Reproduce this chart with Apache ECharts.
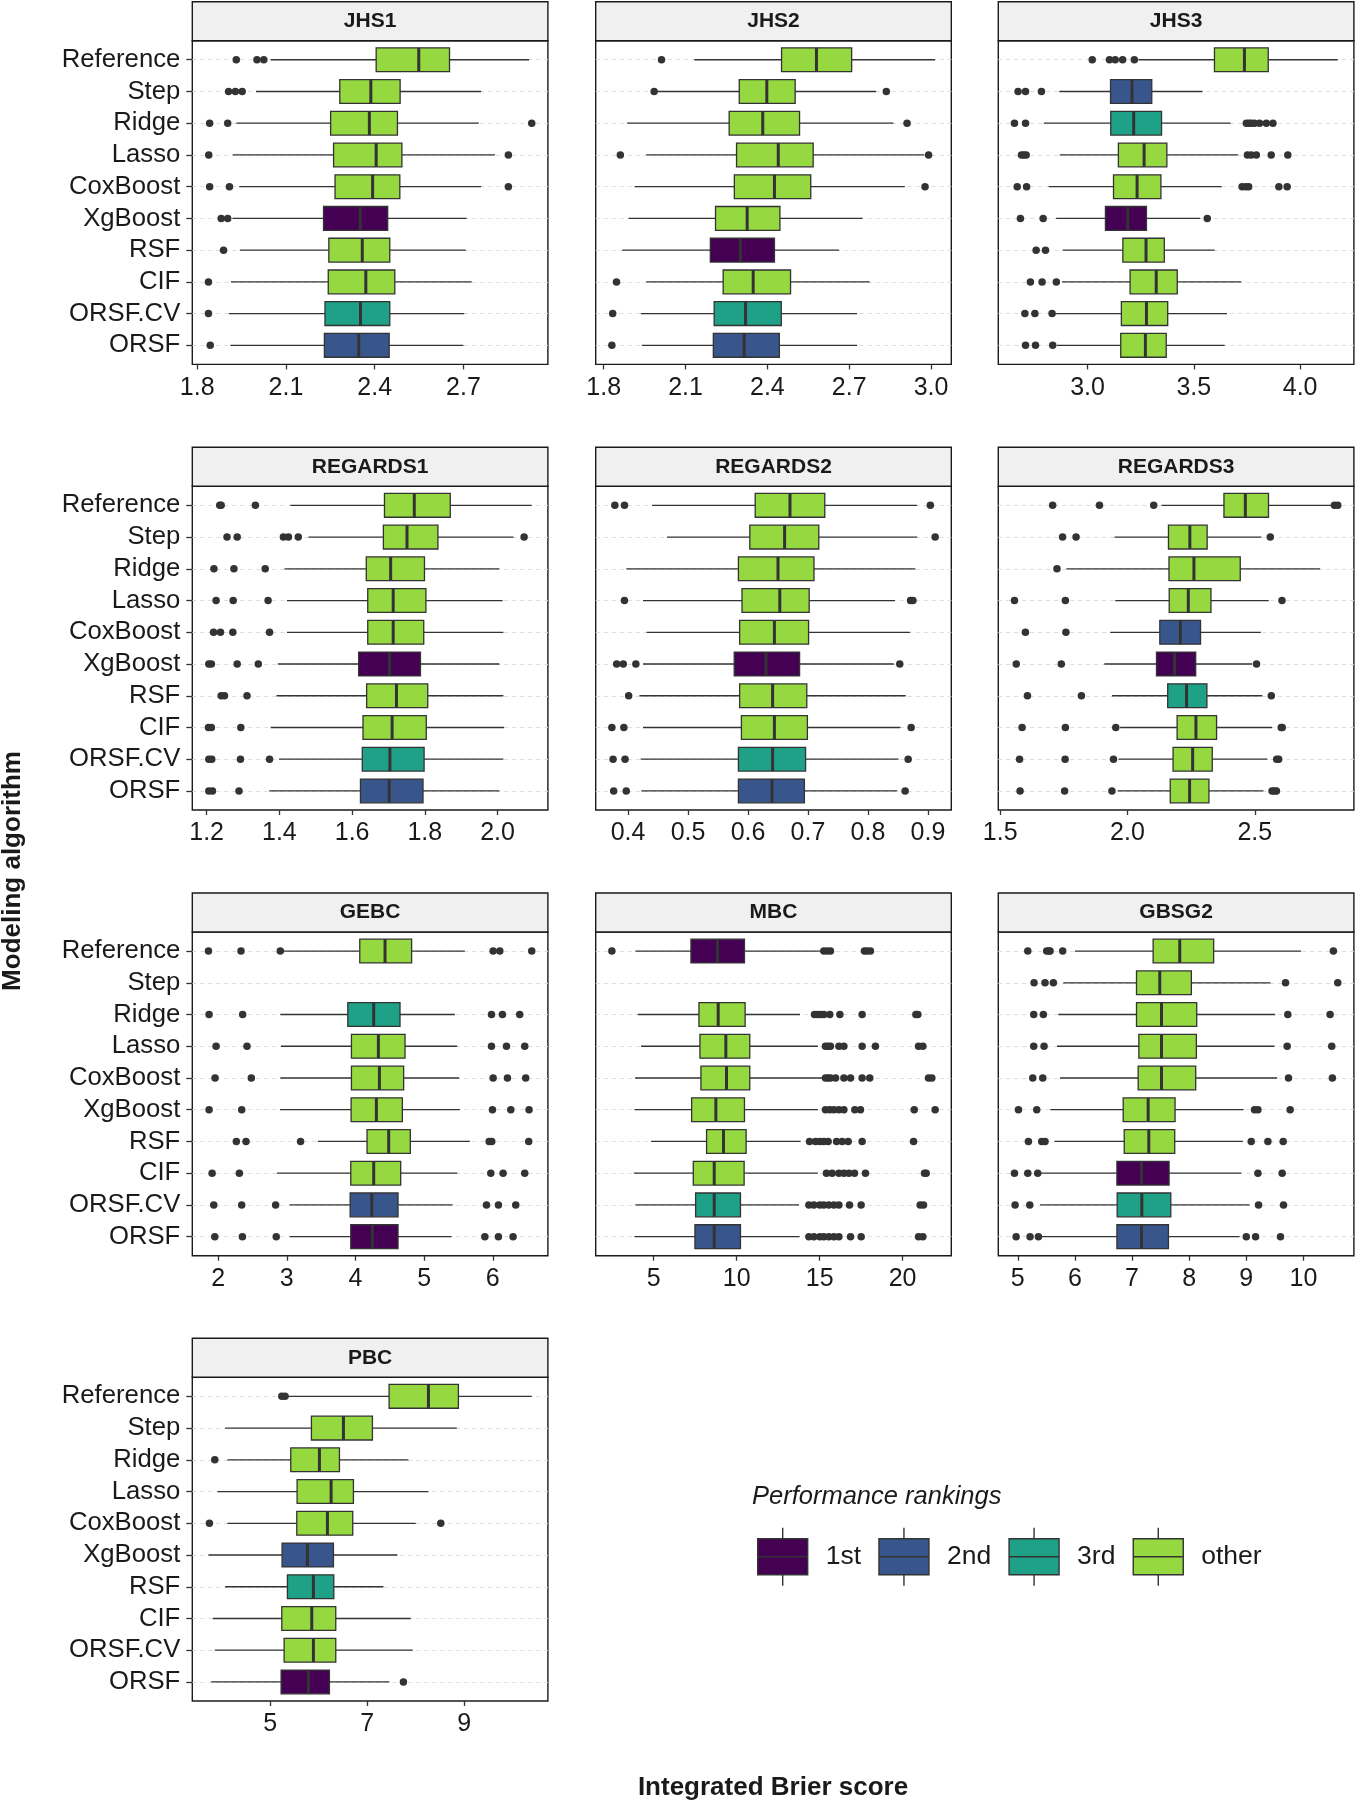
<!DOCTYPE html>
<html><head><meta charset="utf-8">
<script src="https://cdn.jsdelivr.net/npm/echarts@6/dist/echarts.min.js"></script>
<style>html,body{margin:0;padding:0;background:#fff}#c{width:1355px;height:1800px}</style>
</head><body><div id="c"></div><script>
// ---------------- DATA ----------------
const algorithms = ['Reference','Step','Ridge','Lasso','CoxBoost','XgBoost','RSF','CIF','ORSF.CV','ORSF'];
const panelNames = ['JHS1','JHS2','JHS3','REGARDS1','REGARDS2','REGARDS3','GEBC','MBC','GBSG2','PBC'];
const rankNames = ['1st','2nd','3rd','other'];

// stats: [lower whisker, Q1, median, Q3, upper whisker]
const jhs1Stats = [[2.048,2.405,2.549,2.653,2.922],[1.999,2.282,2.387,2.486,2.760],[1.932,2.251,2.382,2.477,2.752],[1.920,2.261,2.405,2.492,2.807],[1.942,2.266,2.393,2.485,2.760],[1.919,2.227,2.351,2.444,2.711],[1.944,2.245,2.358,2.451,2.708],[1.914,2.243,2.370,2.468,2.728],[1.907,2.232,2.352,2.451,2.703],[1.912,2.230,2.346,2.449,2.700]];
const jhs1Outliers = [[1.932,2.002,2.025],[1.906,1.929,1.952],[1.842,1.903,2.931],[1.839,2.852],[1.842,1.909,2.852],[1.881,1.903],[1.889],[1.838],[1.838],[1.844]];
const jhs1Ranks = [3,3,3,3,3,0,3,3,2,1];

const jhs2Stats = [[2.132,2.452,2.580,2.709,3.015],[1.996,2.297,2.398,2.502,2.799],[1.886,2.260,2.383,2.518,2.862],[1.956,2.287,2.440,2.568,2.975],[1.913,2.279,2.426,2.559,2.904],[1.891,2.210,2.326,2.446,2.749],[1.868,2.191,2.301,2.426,2.663],[1.956,2.238,2.348,2.485,2.775],[1.936,2.205,2.320,2.451,2.729],[1.940,2.202,2.315,2.444,2.729]];
const jhs2Outliers = [[2.012],[1.985,2.836],[2.912],[1.861,2.991],[2.978],[],[],[1.847],[1.833],[1.830]];
const jhs2Ranks = [3,3,3,3,3,3,0,3,2,1];

const jhs3Stats = [[3.239,3.597,3.738,3.850,4.177],[2.867,3.108,3.209,3.302,3.541],[2.794,3.109,3.217,3.348,3.673],[2.869,3.145,3.266,3.373,3.709],[2.817,3.122,3.233,3.345,3.631],[2.852,3.084,3.189,3.277,3.530],[2.883,3.166,3.275,3.361,3.598],[2.880,3.200,3.323,3.422,3.723],[2.848,3.159,3.277,3.377,3.656],[2.856,3.156,3.272,3.370,3.645]];
const jhs3Outliers = [[3.022,3.103,3.130,3.165,3.220],[2.673,2.708,2.783],[2.656,2.708,3.747,3.760,3.770,3.785,3.809,3.841,3.872],[2.689,2.700,2.711,3.752,3.770,3.794,3.864,3.942],[2.669,2.713,3.727,3.745,3.758,3.900,3.939],[2.684,2.791,3.563],[2.758,2.802],[2.731,2.786,2.853],[2.705,2.752,2.833],[2.708,2.755,2.836]];
const jhs3Ranks = [3,1,2,3,3,0,3,3,3,3];

const regards1Stats = [[1.430,1.689,1.771,1.870,2.094],[1.480,1.686,1.751,1.836,2.044],[1.414,1.639,1.706,1.799,2.005],[1.421,1.643,1.713,1.803,2.014],[1.421,1.643,1.713,1.797,2.016],[1.396,1.618,1.703,1.788,2.005],[1.392,1.640,1.722,1.808,2.016],[1.376,1.630,1.710,1.804,2.018],[1.399,1.628,1.704,1.798,2.016],[1.372,1.623,1.702,1.795,2.005]];
const regards1Outliers = [[1.236,1.240,1.334],[1.256,1.284,1.411,1.425,1.452,2.073],[1.220,1.275,1.361],[1.226,1.273,1.369],[1.219,1.238,1.272,1.373],[1.206,1.213,1.284,1.342],[1.240,1.249,1.311],[1.205,1.213,1.294],[1.206,1.214,1.293,1.373],[1.206,1.216,1.289]];
const regards1Ranks = [3,3,3,3,3,0,3,3,2,1];

const regards2Stats = [[0.440,0.612,0.670,0.728,0.882],[0.465,0.603,0.661,0.718,0.882],[0.397,0.584,0.650,0.710,0.879],[0.425,0.590,0.653,0.702,0.845],[0.431,0.586,0.644,0.701,0.870],[0.425,0.577,0.630,0.686,0.843],[0.419,0.586,0.641,0.698,0.863],[0.425,0.589,0.644,0.699,0.854],[0.421,0.584,0.641,0.696,0.851],[0.422,0.584,0.640,0.694,0.849]];
const regards2Outliers = [[0.378,0.394,0.904],[0.912],[],[0.394,0.871,0.875],[],[0.381,0.392,0.413,0.853],[0.401],[0.373,0.393,0.872],[0.375,0.395,0.867],[0.376,0.397,0.862]];
const regards2Ranks = [3,3,3,3,3,0,3,3,2,1];

const regards3Stats = [[2.134,2.379,2.463,2.554,2.807],[1.949,2.161,2.245,2.313,2.526],[1.760,2.163,2.261,2.443,2.757],[1.952,2.164,2.239,2.328,2.555],[1.932,2.127,2.208,2.287,2.524],[1.909,2.114,2.185,2.268,2.490],[1.939,2.158,2.232,2.312,2.530],[1.971,2.195,2.269,2.350,2.568],[1.965,2.179,2.256,2.333,2.550],[1.961,2.168,2.244,2.320,2.534]];
const regards3Outliers = [[1.706,1.890,2.103,2.813,2.826],[1.745,1.798,2.561],[1.723],[1.556,1.756,2.607],[1.599,1.758],[1.563,1.740,2.507],[1.607,1.819,2.565],[1.586,1.756,1.954,2.604,2.608],[1.576,1.755,1.945,2.586,2.594],[1.578,1.753,1.939,2.568,2.578,2.585]];
const regards3Ranks = [3,3,3,3,1,0,2,3,3,3];

const gebcStats = [[2.954,4.063,4.431,4.818,5.593],null,[2.906,3.889,4.266,4.649,5.448],[2.915,3.942,4.334,4.722,5.482],[2.906,3.942,4.349,4.702,5.511],[2.901,3.937,4.305,4.683,5.521],[3.453,4.169,4.484,4.799,5.666],[2.857,3.932,4.266,4.659,5.482],[3.041,3.923,4.237,4.620,5.414],[3.041,3.932,4.247,4.620,5.400]];
const gebcOutliers = [[1.860,2.334,2.906,6.005,6.102,6.567],[],[1.869,2.358,5.981,6.140,6.392],[1.971,2.421,5.981,6.199,6.465],[1.956,2.484,6.005,6.213,6.479],[1.869,2.344,5.995,6.262,6.528],[2.266,2.407,3.201,5.947,5.985,6.523],[1.913,2.310,5.971,6.150,6.465],[1.937,2.344,2.838,5.908,6.082,6.334],[1.952,2.354,2.847,5.884,6.082,6.295]];
const gebcRanks = [3,null,2,3,3,3,3,3,1,0];

const mbcStats = [[3.898,7.243,8.845,10.468,15.194],null,[4.039,7.724,8.885,10.508,13.812],[4.239,7.784,9.346,10.788,14.894],[3.878,7.844,9.386,10.788,15.194],[3.838,7.283,8.745,10.468,14.894],[4.840,8.184,9.206,10.568,13.852],[3.798,7.383,8.645,10.448,14.894],[3.898,7.524,8.645,10.227,13.752],[3.838,7.483,8.645,10.227,13.792]];
const mbcOutliers = [[2.476,15.25,15.45,15.65,17.70,17.86,18.06],[],[14.69,14.87,15.05,15.25,15.61,16.22,17.56,20.80,20.92],[15.35,15.50,15.65,16.16,16.46,17.56,18.36,20.96,21.22],[15.35,15.50,15.65,15.96,16.46,16.86,17.56,18.02,21.56,21.76],[15.35,15.61,15.86,16.16,16.46,17.12,17.46,20.70,21.96],[14.39,14.75,15.01,15.25,15.51,16.02,16.36,16.72,17.56,20.66],[15.41,15.75,16.16,16.46,16.76,17.10,17.76,21.32,21.42],[14.35,14.65,15.01,15.25,15.55,15.86,16.16,16.80,17.50,21.06,21.26],[14.35,14.65,15.01,15.25,15.55,15.86,16.16,16.86,17.50,20.96,21.22]];
const mbcRanks = [0,null,3,3,3,3,3,3,2,1];

const gbsg2Stats = [[6.001,7.369,7.835,8.428,9.959],[5.797,7.078,7.485,8.038,9.424],[5.710,7.078,7.515,8.132,9.505],[5.687,7.119,7.515,8.126,9.494],[5.739,7.107,7.515,8.114,9.540],[5.570,6.845,7.282,7.753,8.952],[5.640,6.863,7.293,7.747,8.941],[5.361,6.735,7.165,7.648,8.912],[5.390,6.740,7.171,7.678,9.057],[5.390,6.735,7.165,7.637,8.882]];
const gbsg2Outliers = [[5.175,5.506,5.545,5.565,5.786,10.524],[5.285,5.477,5.623,9.686,10.600],[5.279,5.448,9.726,10.466],[5.279,5.460,9.715,10.495],[5.262,5.437,9.738,10.506],[5.012,5.332,9.144,9.203,9.767],[5.186,5.419,5.477,9.086,9.377,9.645],[4.942,5.175,5.349,9.203,9.627],[4.953,5.210,9.214,9.651],[4.971,5.215,5.361,8.999,9.162,9.598]];
const gbsg2Ranks = [3,3,3,3,3,3,3,0,2,1];

const pbcStats = [[5.357,7.454,8.265,8.883,10.395],[4.072,5.852,6.512,7.110,8.849],[4.120,5.426,6.017,6.430,7.852],[3.914,5.557,6.258,6.718,8.265],[4.120,5.550,6.182,6.704,8.003],[3.729,5.247,5.770,6.306,7.625],[4.072,5.357,5.893,6.313,7.337],[3.818,5.241,5.859,6.354,7.900],[3.859,5.289,5.893,6.354,7.942],[3.784,5.227,5.790,6.223,7.460]];
const pbcOutliers = [[5.241,5.309],[],[3.859],[],[3.749,8.519],[],[],[],[],[7.749]];
const pbcRanks = [3,3,3,3,3,1,2,3,3,0];

// x tick labels per panel
const jhs1Ticks = ['1.8','2.1','2.4','2.7'];
const jhs2Ticks = ['1.8','2.1','2.4','2.7','3.0'];
const jhs3Ticks = ['3.0','3.5','4.0'];
const regards1Ticks = ['1.2','1.4','1.6','1.8','2.0'];
const regards2Ticks = ['0.4','0.5','0.6','0.7','0.8','0.9'];
const regards3Ticks = ['1.5','2.0','2.5'];
const gebcTicks = ['2','3','4','5','6'];
const mbcTicks = ['5','10','15','20'];
const gbsg2Ticks = ['5','6','7','8','9','10'];
const pbcTicks = ['5','7','9'];

// ---------------- STYLE / LAYOUT ----------------
const FONT = '"Liberation Sans", Arial, Helvetica, sans-serif';
const rankColors = ['#440154', '#39568C', '#1FA187', '#95D840'];
const INK = '#1a1a1a';
const colLeft = [192.3, 595.7, 998.3];
const rowTop = [40.7, 486.3, 932, 1377.3];
const panelW = 355.6, panelH = 323.7, stripH = 39;

const panelStats = [jhs1Stats, jhs2Stats, jhs3Stats, regards1Stats, regards2Stats, regards3Stats, gebcStats, mbcStats, gbsg2Stats, pbcStats];
const panelOutliers = [jhs1Outliers, jhs2Outliers, jhs3Outliers, regards1Outliers, regards2Outliers, regards3Outliers, gebcOutliers, mbcOutliers, gbsg2Outliers, pbcOutliers];
const panelRanks = [jhs1Ranks, jhs2Ranks, jhs3Ranks, regards1Ranks, regards2Ranks, regards3Ranks, gebcRanks, mbcRanks, gbsg2Ranks, pbcRanks];
const panelTicks = [jhs1Ticks, jhs2Ticks, jhs3Ticks, regards1Ticks, regards2Ticks, regards3Ticks, gebcTicks, mbcTicks, gbsg2Ticks, pbcTicks];

function renderBox(params, api) {
  const y = api.value(0);
  const pLow = api.coord([api.value(1), y]);
  const pQ1 = api.coord([api.value(2), y]);
  const pMed = api.coord([api.value(3), y]);
  const pQ3 = api.coord([api.value(4), y]);
  const pHigh = api.coord([api.value(5), y]);
  const band = api.size([0, 1])[1];
  const h = band * 0.75;
  const cy = pLow[1];
  const lineStyle = { stroke: '#333333', lineWidth: 1.3 };
  return {
    type: 'group',
    children: [
      { type: 'line', shape: { x1: pLow[0], y1: cy, x2: pQ1[0], y2: cy }, style: lineStyle },
      { type: 'line', shape: { x1: pQ3[0], y1: cy, x2: pHigh[0], y2: cy }, style: lineStyle },
      { type: 'rect', shape: { x: pQ1[0], y: cy - h / 2, width: pQ3[0] - pQ1[0], height: h },
        style: { fill: api.visual('color'), stroke: '#333333', lineWidth: 1.3 } },
      { type: 'line', shape: { x1: pMed[0], y1: cy - h / 2, x2: pMed[0], y2: cy + h / 2 },
        style: { stroke: '#333333', lineWidth: 3 } }
    ]
  };
}

const grids = [], xAxes = [], yAxes = [], series = [], graphics = [];
const rowIdx = algorithms.map((a, i) => i);

panelNames.forEach((name, p) => {
  const r = Math.floor(p / 3), c = p % 3;
  const L = colLeft[c], T = rowTop[r];
  const stats = panelStats[p], outs = panelOutliers[p], ranks = panelRanks[p];
  const ticks = panelTicks[p].map(Number);
  const dec = (panelTicks[p][0].split('.')[1] || '').length;
  // data range + 5% expansion (ggplot default)
  let lo = Infinity, hi = -Infinity;
  stats.forEach(s => { if (s) { lo = Math.min(lo, s[0]); hi = Math.max(hi, s[4]); } });
  outs.forEach(o => o.forEach(v => { lo = Math.min(lo, v); hi = Math.max(hi, v); }));
  const pad = (hi - lo) * 0.05;

  grids.push({ left: L, top: T, width: panelW, height: panelH, show: true,
    borderColor: INK, borderWidth: 1.4, backgroundColor: '#ffffff' });

  xAxes.push({
    gridIndex: p, type: 'value', min: lo - pad, max: hi + pad, position: 'bottom',
    axisLine: { show: false, onZero: false },
    axisTick: { show: true, length: 5, customValues: ticks, lineStyle: { color: '#333333', width: 1.3 } },
    axisLabel: { customValues: ticks, formatter: v => v.toFixed(dec), fontSize: 25, color: INK, margin: 11, fontFamily: FONT },
    splitLine: { show: false }
  });

  yAxes.push({
    gridIndex: p, type: 'value', inverse: true, min: -0.6, max: 9.6, position: 'left',
    axisLine: { show: false, onZero: false },
    axisTick: { show: c === 0, length: 6, customValues: rowIdx, lineStyle: { color: '#333333', width: 1.3 } },
    axisLabel: { show: c === 0, customValues: rowIdx, formatter: v => algorithms[Math.round(v)],
      fontSize: 25.7, color: INK, margin: 12, fontFamily: FONT },
    splitLine: { show: true, lineStyle: { color: '#dddddd', width: 1, type: [4, 4] } }
  });

  for (let k = 0; k < 4; k++) {
    const data = [];
    stats.forEach((s, i) => { if (s && ranks[i] === k) data.push([i].concat(s)); });
    if (!data.length) continue;
    series.push({
      type: 'custom', name: rankNames[k], xAxisIndex: p, yAxisIndex: p,
      itemStyle: { color: rankColors[k] }, renderItem: renderBox,
      encode: { x: [1, 2, 3, 4, 5], y: 0 }, data: data, z: 3, silent: true
    });
  }

  const outData = [];
  outs.forEach((o, i) => o.forEach(v => outData.push([v, i])));
  series.push({
    type: 'scatter', xAxisIndex: p, yAxisIndex: p, symbolSize: 7.5,
    itemStyle: { color: '#333333', opacity: 1 }, data: outData, z: 4, silent: true
  });

  graphics.push({ type: 'rect', shape: { x: L, y: T - stripH, width: panelW, height: stripH },
    style: { fill: '#f0f0f0', stroke: INK, lineWidth: 1.4 }, z: 10 });
  graphics.push({ type: 'text', x: L + panelW / 2, y: T - stripH / 2,
    style: { text: name, fontSize: 21, fontWeight: 'bold', fontFamily: FONT, fill: INK, align: 'center', verticalAlign: 'middle' }, z: 11 });
});

graphics.push({ type: 'text', x: 773, y: 1788,
  style: { text: 'Integrated Brier score', fontSize: 26, fontWeight: 'bold', fontFamily: FONT, fill: INK, align: 'center', verticalAlign: 'middle' } });
graphics.push({ type: 'text', x: 13, y: 871, rotation: Math.PI / 2,
  style: { text: 'Modeling algorithm', fontSize: 26, fontWeight: 'bold', fontFamily: FONT, fill: INK, align: 'center', verticalAlign: 'middle' } });

const boxIcon = 'path://M25,0L25,11M0,11L50,11L50,47L0,47ZM0,29L50,29M25,47L25,58';

const option = {
  animation: false,
  backgroundColor: '#ffffff',
  title: [{ text: 'Performance rankings', left: 752, top: 1484, padding: 0,
    textStyle: { fontSize: 25.5, fontStyle: 'italic', fontWeight: 'normal', color: INK, fontFamily: FONT } }],
  legend: {
    left: 757, top: 1527, orient: 'horizontal', itemWidth: 50, itemHeight: 58, itemGap: 17.2,
    icon: boxIcon, selectedMode: false, padding: 0,
    data: rankNames.map((n, k) => ({ name: n, icon: boxIcon,
      itemStyle: { color: rankColors[k], borderColor: '#333333', borderWidth: 1.4 } })),
    textStyle: { fontSize: 26.5, color: INK, fontFamily: FONT, padding: [0, 0, 0, 13] }
  },
  grid: grids, xAxis: xAxes, yAxis: yAxes, series: series, graphic: graphics
};

const chart = echarts.init(document.getElementById('c'), null, { renderer: 'canvas' });
chart.setOption(option);
</script></body></html>
